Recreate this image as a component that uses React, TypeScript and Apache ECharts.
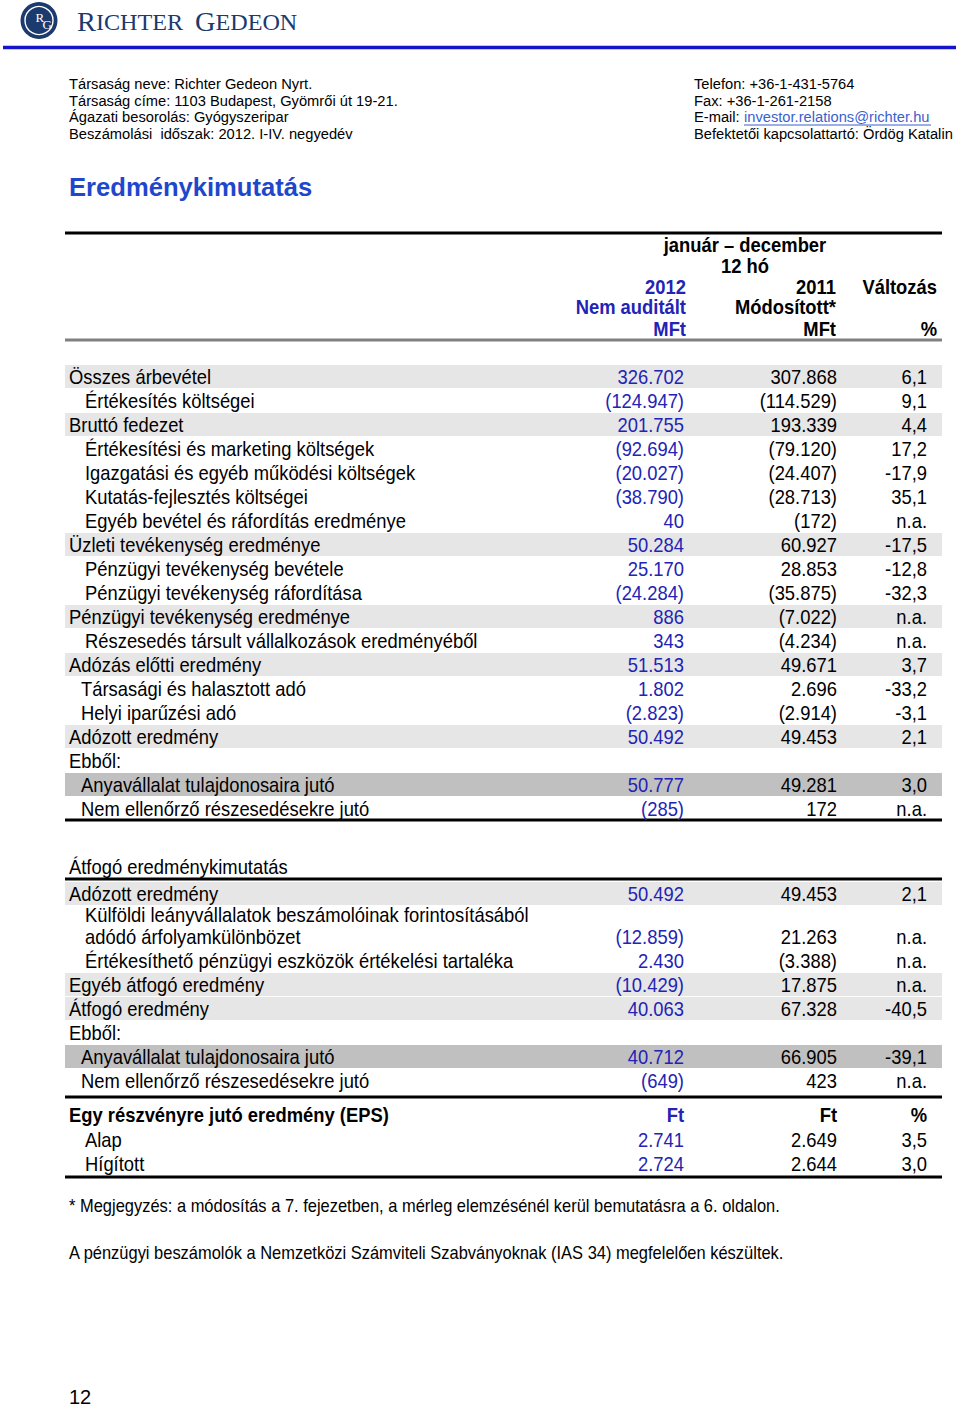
import React, { useEffect, useRef } from "react";
import * as echarts from "echarts";

// ---------- DATA ----------
const companyInfoLeft = [
  "Társaság neve: Richter Gedeon Nyrt.",
  "Társaság címe: 1103 Budapest, Gyömrői út 19-21.",
  "Ágazati besorolás: Gyógyszeripar",
  "Beszámolási  időszak: 2012. I-IV. negyedév",
];
const companyInfoRight = [
  "Telefon: +36-1-431-5764",
  "Fax: +36-1-261-2158",
  "E-mail: ",
  "Befektetői kapcsolattartó: Ördög Katalin",
];
const emailAddress = "investor.relations@richter.hu";

const headerPeriod = ["január – december", "12 hó"];
const headerCol2012 = ["2012", "Nem auditált", "MFt"];
const headerCol2011 = ["2011", "Módosított*", "MFt"];
const headerColChange = ["Változás", "", "%"];

// kinds: t = total (shaded), i = indented item, s = sub item, h = heading, d = parent share (dark)
const incomeLabels = [
  "Összes árbevétel",
  "Értékesítés költségei",
  "Bruttó fedezet",
  "Értékesítési és marketing költségek",
  "Igazgatási és egyéb működési költségek",
  "Kutatás-fejlesztés költségei",
  "Egyéb bevétel és ráfordítás eredménye",
  "Üzleti tevékenység eredménye",
  "Pénzügyi tevékenység bevétele",
  "Pénzügyi tevékenység ráfordítása",
  "Pénzügyi tevékenység eredménye",
  "Részesedés társult vállalkozások eredményéből",
  "Adózás előtti eredmény",
  "Társasági és halasztott adó",
  "Helyi iparűzési adó",
  "Adózott eredmény",
  "Ebből:",
  "Anyavállalat tulajdonosaira jutó",
  "Nem ellenőrző részesedésekre jutó",
];
const incomeKinds = ["t", "i", "t", "i", "i", "i", "i", "t", "i", "i", "t", "i", "t", "s", "s", "t", "h", "d", "s"];
const income2012 = [326702, -124947, 201755, -92694, -20027, -38790, 40, 50284, 25170, -24284, 886, 343, 51513, 1802, -2823, 50492, null, 50777, -285];
const income2011 = [307868, -114529, 193339, -79120, -24407, -28713, -172, 60927, 28853, -35875, -7022, -4234, 49671, 2696, -2914, 49453, null, 49281, 172];
const incomeChange = [6.1, 9.1, 4.4, 17.2, -17.9, 35.1, null, -17.5, -12.8, -32.3, null, null, 3.7, -33.2, -3.1, 2.1, undefined, 3.0, null];

const compTitle = "Átfogó eredménykimutatás";
const compLabels = [
  "Adózott eredmény",
  "Külföldi leányvállalatok beszámolóinak forintosításából\nadódó árfolyamkülönbözet",
  "Értékesíthető pénzügyi eszközök értékelési tartaléka",
  "Egyéb átfogó eredmény",
  "Átfogó eredmény",
  "Ebből:",
  "Anyavállalat tulajdonosaira jutó",
  "Nem ellenőrző részesedésekre jutó",
];
const compKinds = ["t", "i", "i", "t", "t", "h", "d", "s"];
const comp2012 = [50492, -12859, 2430, -10429, 40063, null, 40712, -649];
const comp2011 = [49453, 21263, -3388, 17875, 67328, null, 66905, 423];
const compChange = [2.1, null, null, null, -40.5, undefined, -39.1, null];

const epsTitle = "Egy részvényre jutó eredmény (EPS)";
const epsUnits = ["Ft", "Ft", "%"];
const epsLabels = ["Alap", "Hígított"];
const eps2012 = [2741, 2724];
const eps2011 = [2649, 2644];
const epsChange = [3.5, 3.0];

const footnotes = [
  "* Megjegyzés: a módosítás a 7. fejezetben, a mérleg elemzésénél kerül bemutatásra a 6. oldalon.",
  "A pénzügyi beszámolók a Nemzetközi Számviteli Szabványoknak (IAS 34) megfelelően készültek.",
];
const pageTitle = "Eredménykimutatás";
const pageNumber = "12";

// ---------- FORMATTING ----------
const grp = (n: number) => String(n).replace(/\B(?=(\d{3})+(?!\d))/g, ".");
const fmtVal = (v: number | null) => (v == null ? "" : v < 0 ? `(${grp(-v)})` : grp(v));
const fmtPct = (v: number | null | undefined) =>
  v === undefined ? "" : v === null ? "n.a." : v.toFixed(1).replace(".", ",");

// ---------- STYLE ----------
const BLUE = "#2323b5";
const TITLE_BLUE = "#1f47cc";
const NAVY = "#1b3a6e";
const LIGHT = "#e6e6e6";
const DARK = "#c0c0c0";
const TSIZE = 20;
const NARROW = 0.92;
const FONT = "'Liberation Sans', Arial, sans-serif";
const SERIF = "'Liberation Serif', 'Times New Roman', serif";

function txt(x: number, y: number, text: string, o: any = {}) {
  const align = o.align || "left";
  return {
    type: "text",
    x,
    y,
    scaleX: o.scaleX ?? 1,
    z: 10,
    style: {
      text,
      fontSize: o.size ?? 14.7,
      fontFamily: o.family || FONT,
      fontWeight: o.bold ? "bold" : "normal",
      fill: o.color || "#000",
      align,
      textAlign: align,
      verticalAlign: "middle",
      textVerticalAlign: "middle",
      rich: o.rich,
    },
  };
}
const ntxt = (x: number, y: number, text: string, o: any = {}) => txt(x, y, text, { size: TSIZE, scaleX: NARROW, ...o });
const hline = (y: number, w: number, color = "#000", x1 = 65, x2 = 942) => ({
  type: "line",
  z: 5,
  shape: { x1, y1: y, x2, y2: y },
  style: { stroke: color, lineWidth: w },
});
const band = (y: number, fill: string) => ({
  type: "rect",
  z: 1,
  shape: { x: 65, y: y - 12, width: 877, height: 23 },
  style: { fill },
});

const COL12 = 684;
const COL11 = 837;
const COLCH = 927;

function rowEls(
  labels: string[],
  kinds: string[],
  v12: (number | null)[],
  v11: (number | null)[],
  ch: (number | null | undefined)[],
  startY: number
) {
  const out: any[] = [];
  let y = startY;
  labels.forEach((label, i) => {
    const lines = label.split("\n");
    if (i > 0) y += 24 + (lines.length - 1) * 19;
    const kind = kinds[i];
    if (kind === "t") out.push(band(y, LIGHT));
    if (kind === "d") out.push(band(y, DARK));
    const lx = kind === "i" ? 85 : kind === "s" || kind === "d" ? 81 : 69;
    lines.forEach((ln, k) => {
      out.push(ntxt(lx, y - 22 * (lines.length - 1 - k), ln));
    });
    if (kind !== "h") {
      out.push(ntxt(COL12, y, fmtVal(v12[i]), { align: "right", color: BLUE }));
      out.push(ntxt(COL11, y, fmtVal(v11[i]), { align: "right" }));
      out.push(ntxt(COLCH, y, fmtPct(ch[i]), { align: "right" }));
    }
  });
  return out;
}

function buildElements() {
  const els: any[] = [];
  // Logo
  els.push({ type: "circle", z: 2, shape: { cx: 39, cy: 20.5, r: 18.5 }, style: { fill: NAVY } });
  els.push({ type: "circle", z: 3, shape: { cx: 39, cy: 20.5, r: 14 }, style: { fill: "none", stroke: "#fff", lineWidth: 1.4 } });
  els.push(txt(35.5, 17, "R", { size: 13, family: SERIF, color: "#fff" }));
  els.push(txt(42.5, 24, "G", { size: 13, family: SERIF, color: "#fff" }));
  const rich = {
    big: { fontSize: 27, fontFamily: SERIF, fill: NAVY },
    small: { fontSize: 23, fontFamily: SERIF, fill: NAVY },
  };
  els.push(txt(77, 22, "{big|R}{small|ICHTER}", { rich, scaleX: 1.05 }));
  els.push(txt(195, 22, "{big|G}{small|EDEON}", { rich, scaleX: 1.05 }));
  els.push(hline(47.5, 3.5, "#1515c8", 3, 956));

  // company info
  const infoY = [84, 100.5, 117, 134];
  companyInfoLeft.forEach((t, i) => els.push(txt(69, infoY[i], t)));
  companyInfoRight.forEach((t, i) => els.push(txt(694, infoY[i], t)));
  els.push(txt(744, infoY[2], emailAddress, { color: "#3b5fcf" }));
  els.push(hline(125, 1, "#3b5fcf", 744, 931));

  // title
  els.push(txt(69, 187, pageTitle, { size: 25.6, bold: true, color: TITLE_BLUE }));

  // table header
  els.push(hline(233, 3));
  els.push(ntxt(745, 245, headerPeriod[0], { bold: true, align: "center" }));
  els.push(ntxt(745, 266, headerPeriod[1], { bold: true, align: "center" }));
  const hy = [287, 307.5, 329];
  headerCol2012.forEach((t, i) => els.push(ntxt(686, hy[i], t, { bold: true, align: "right", color: BLUE })));
  headerCol2011.forEach((t, i) => els.push(ntxt(836, hy[i], t, { bold: true, align: "right" })));
  headerColChange.forEach((t, i) => t && els.push(ntxt(937, hy[i], t, { bold: true, align: "right" })));
  els.push(hline(340, 3, "#808080"));

  // income statement rows
  els.push(...rowEls(incomeLabels, incomeKinds, income2012, income2011, incomeChange, 377));
  els.push(hline(820, 3));

  // comprehensive income
  els.push(ntxt(69, 867, compTitle));
  els.push(hline(879, 3));
  els.push(...rowEls(compLabels, compKinds, comp2012, comp2011, compChange, 894));
  els.push(hline(1097, 3));

  // EPS
  els.push(ntxt(69, 1115, epsTitle, { bold: true }));
  els.push(ntxt(COL12, 1115, epsUnits[0], { bold: true, align: "right", color: BLUE }));
  els.push(ntxt(COL11, 1115, epsUnits[1], { bold: true, align: "right" }));
  els.push(ntxt(COLCH, 1115, epsUnits[2], { bold: true, align: "right" }));
  epsLabels.forEach((l, i) => {
    const y = 1140 + i * 24;
    els.push(ntxt(85, y, l));
    els.push(ntxt(COL12, y, grp(eps2012[i]), { align: "right", color: BLUE }));
    els.push(ntxt(COL11, y, grp(eps2011[i]), { align: "right" }));
    els.push(ntxt(COLCH, y, fmtPct(epsChange[i]), { align: "right" }));
  });
  els.push(hline(1177, 3));

  // footnotes
  els.push(ntxt(69, 1206, footnotes[0], { size: 17.9 }));
  els.push(ntxt(69, 1253, footnotes[1], { size: 17.9 }));

  // page number
  els.push(txt(69, 1397, pageNumber, { size: 20 }));
  return els;
}

export default function App() {
  const ref = useRef<HTMLDivElement>(null);
  useEffect(() => {
    document.body.style.margin = "0";
    if (!ref.current) return;
    const chart = echarts.init(ref.current, undefined, { renderer: "svg" });
    chart.setOption({
      animation: false,
      backgroundColor: "#fff",
      graphic: { elements: buildElements() },
    });
    return () => chart.dispose();
  }, []);
  return <div ref={ref} style={{ width: 960, height: 1407 }} />;
}
